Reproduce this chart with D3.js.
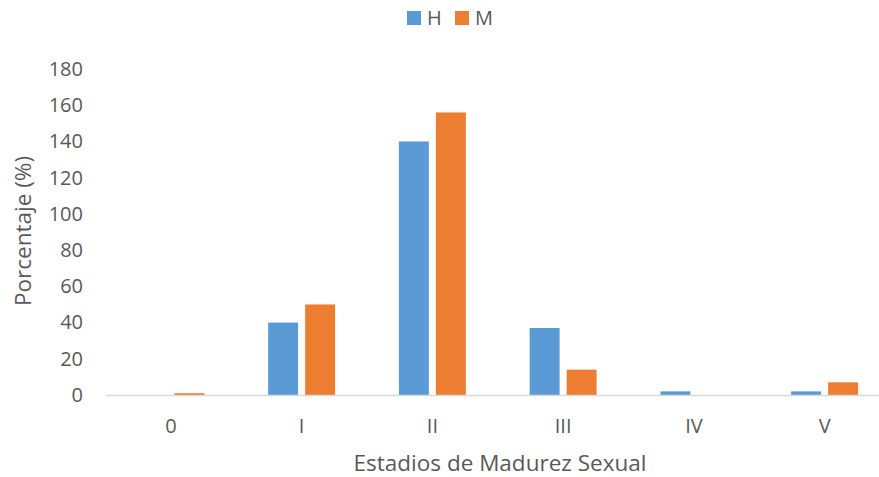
<!DOCTYPE html>
<html lang="es">
<head>
    <meta charset="UTF-8">
    <title>Estadios de Madurez Sexual</title>
    <script src="https://d3js.org/d3.v7.min.js"></script>
    <style>
        body { margin: 0; background: #fff; overflow: hidden; }
        text { font-family: "Open Sans", "Liberation Sans", sans-serif; fill: #595959; }
    </style>
</head>
<body>
    <script>
        // Data
        const categories = ["0", "I", "II", "III", "IV", "V"];
        const seriesNames = ["H", "M"];
        const valuesH = [0, 40, 140, 37, 2, 2];
        const valuesM = [1, 50, 156, 14, 0, 7];
        const yTicks = [0, 20, 40, 60, 80, 100, 120, 140, 160, 180];
        const colors = ["#5B9BD5", "#ED7D31"];

        const data = categories.map((c, i) => ({ cat: c, H: valuesH[i], M: valuesM[i] }));

        const W = 879, H = 477;
        // the plot area runs a little past the right edge of the picture
        const margin = { top: 69, left: 105.5 };
        const width = 784.5;
        const height = 395 - margin.top;

        const svg = d3.select("body").append("svg")
            .attr("width", W)
            .attr("height", H);

        const g = svg.append("g")
            .attr("transform", `translate(${margin.left},${margin.top})`);

        // Scales
        const x = d3.scaleBand()
            .domain(categories)
            .range([0, width])
            .paddingInner(0.488)
            .paddingOuter(0.244);

        const xSub = d3.scaleBand()
            .domain(seriesNames)
            .range([0, x.bandwidth()])
            .paddingInner(0.19);

        const y = d3.scaleLinear()
            .domain([0, 180])
            .range([height, 0]);

        const color = d3.scaleOrdinal().domain(seriesNames).range(colors);

        // Y tick labels (no gridlines)
        const yAxis = g.append("g")
            .call(d3.axisLeft(y).tickValues(yTicks).tickSize(0).tickPadding(22.5));
        yAxis.select(".domain").remove();
        yAxis.selectAll("text").style("font-size", "20px").attr("fill", "#595959");

        // Bars
        g.selectAll(".group")
            .data(data)
            .enter()
            .append("g")
            .attr("class", "group")
            .attr("transform", d => `translate(${x(d.cat)},0)`)
            .selectAll("rect")
            .data(d => seriesNames.map(k => ({ key: k, value: d[k] })))
            .enter()
            .append("rect")
            .attr("x", d => xSub(d.key))
            .attr("y", d => y(d.value))
            .attr("width", xSub.bandwidth())
            .attr("height", d => height - y(d.value))
            .attr("fill", d => color(d.key));

        // X axis
        const xAxis = g.append("g")
            .attr("transform", `translate(0,${height})`)
            .call(d3.axisBottom(x).tickSize(0).tickPadding(24));
        xAxis.select(".domain").attr("stroke", "#d9d9d9").attr("stroke-width", 1.5);
        xAxis.selectAll("text").style("font-size", "20px").attr("fill", "#595959");

        // Axis titles
        svg.append("text")
            .attr("text-anchor", "middle")
            .attr("x", 500)
            .attr("y", 471)
            .style("font-size", "22.5px")
            .text("Estadios de Madurez Sexual");

        svg.append("text")
            .attr("text-anchor", "middle")
            .attr("transform", "rotate(-90)")
            .attr("x", -231)
            .attr("y", 31)
            .style("font-size", "22.5px")
            .text("Porcentaje (%)");

        // Legend
        const legend = svg.append("g").attr("transform", "translate(407,11)");
        seriesNames.forEach((s, i) => {
            const lg = legend.append("g").attr("transform", `translate(${i * 48},0)`);
            lg.append("rect").attr("width", 14).attr("height", 14).attr("fill", colors[i]);
            lg.append("text").attr("x", 20).attr("y", 14).style("font-size", "20px").text(s);
        });
    </script>
</body>
</html>
